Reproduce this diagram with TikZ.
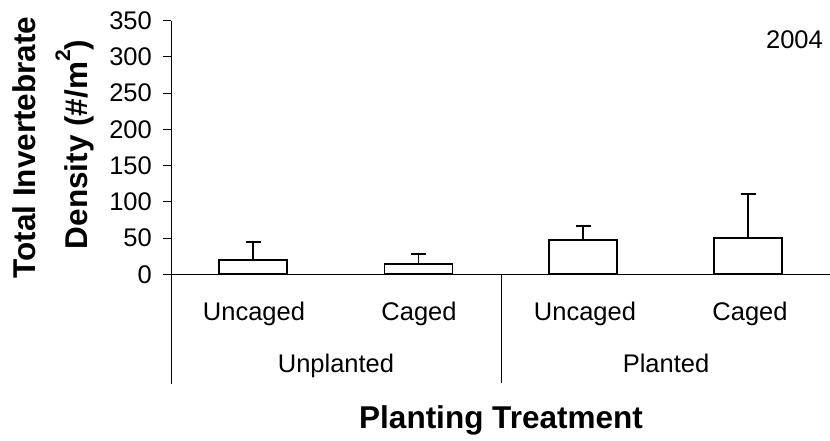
\documentclass[tikz,border=0pt]{standalone}
\usepackage{fontspec}
\setmainfont{Liberation Sans}
\begin{document}
\begin{tikzpicture}[x=1pt,y=-1pt,
  lbl/.style={inner sep=0pt,font=\fontsize{25.5}{30}\selectfont},
  ttl/.style={inner sep=0pt,font=\fontsize{31.5}{36}\selectfont\bfseries},
  axisline/.style={draw=black,line width=1pt},
  barbox/.style={draw=black,fill=white,line width=1.8pt},
  errline/.style={draw=black,line width=1.8pt}]
\useasboundingbox (0,0) rectangle (830,441);
% axes
\coordinate (yaxtop) at (171,20.7);
\coordinate (origin) at (171,274.3);
\coordinate (ybot) at (171,384);
\coordinate (xend) at (830,274.3);
\coordinate (midtop) at (501,274.3);
\coordinate (midbot) at (501,383);
\draw[axisline] (yaxtop) -- (ybot);
\draw[axisline] (origin) -- (xend);
\draw[axisline] (midtop) -- (midbot);
% ticks and labels
\foreach \v in {0,50,...,350}{
  \draw[axisline] (163,{274.3-0.7246*\v}) -- (171,{274.3-0.7246*\v});
  \node[lbl,anchor=east] (t\v) at (152,{274.3-0.7246*\v}) {\v};
}
% bars: center, value, error top
\foreach \c/\m/\e [count=\i] in {253/19.3/44.6, 418.5/14.2/28, 583/47.3/66.2, 748/50/110.8}{
  \draw[errline] (\c,{274.3-0.7246*\m}) -- (\c,{274.3-0.7246*\e});
  \draw[errline] ({\c-7.5},{274.3-0.7246*\e}) -- ({\c+7.5},{274.3-0.7246*\e});
  \draw[barbox] ({\c-34},274.3) rectangle ({\c+34},{274.3-0.7246*\m});
}
% category labels
\node[lbl,anchor=base] (c1) at (254,320) {Uncaged};
\node[lbl,anchor=base] (c2) at (419,320) {Caged};
\node[lbl,anchor=base] (c3) at (585,320) {Uncaged};
\node[lbl,anchor=base] (c4) at (750,320) {Caged};
\node[lbl,anchor=base] (g1) at (336,372) {Unplanted};
\node[lbl,anchor=base] (g2) at (666,372) {Planted};
% year
\node[lbl,anchor=east] (yr) at (823,39.3) {2004};
% titles
\node[ttl,anchor=base] (xt) at (501,428.3) {Planting Treatment};
\node[ttl,anchor=base,rotate=90] (yt1) at (35,147.5) {Total Invertebrate};
\node[ttl,anchor=base,rotate=90] (yt2) at (87.5,144.5) {Density (\#/m\raisebox{0.55em}{\fontsize{21}{24}\selectfont 2})};
\end{tikzpicture}
\end{document}
